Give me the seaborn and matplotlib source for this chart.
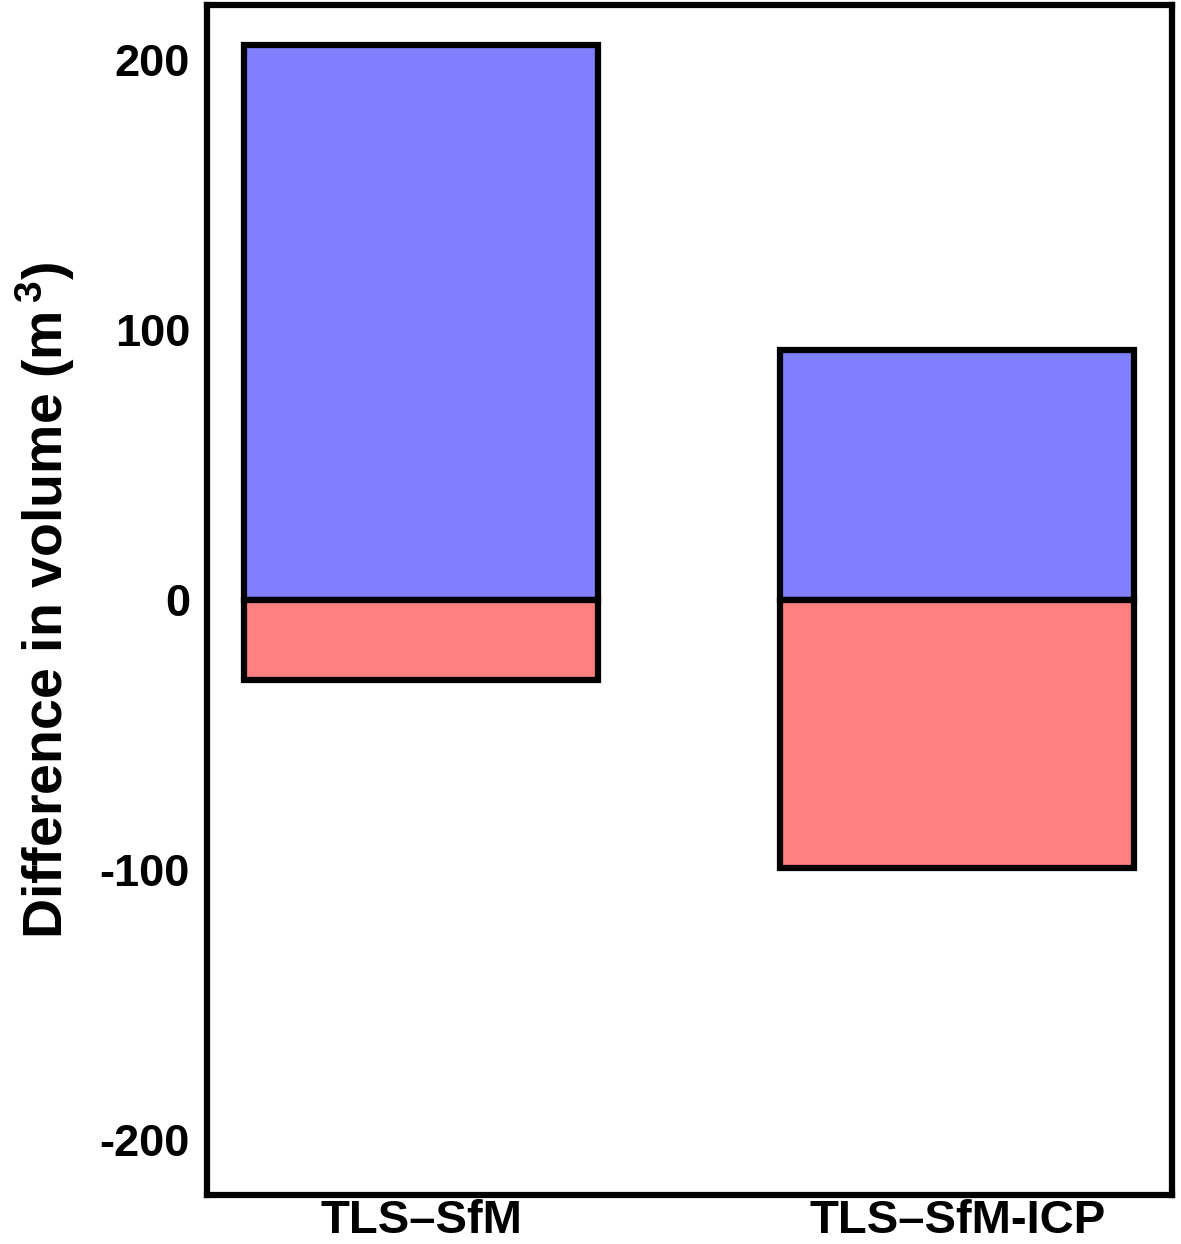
import matplotlib
matplotlib.use('Agg')
import matplotlib.pyplot as plt
import seaborn as sns

# Data
categories = ['TLS\u2013SfM', 'TLS\u2013SfM-ICP']
gain = [205.5, 92.5]
loss = [-29.5, -99.5]
yticks = [-200, -100, 0, 100, 200]

sns.set_style('white')
plt.rcParams['font.family'] = ['Liberation Sans', 'DejaVu Sans']
plt.rcParams['font.weight'] = 'bold'
plt.rcParams['text.color'] = 'black'
plt.rcParams['axes.labelcolor'] = 'black'
plt.rcParams['xtick.color'] = 'black'
plt.rcParams['ytick.color'] = 'black'
plt.rcParams['mathtext.fontset'] = 'custom'
plt.rcParams['mathtext.rm'] = 'Liberation Sans:bold'
plt.rcParams['mathtext.bf'] = 'Liberation Sans:bold'
plt.rcParams['mathtext.default'] = 'bf'

fig = plt.figure(figsize=(11.81, 12.44), dpi=100)
ax = fig.add_axes([0.175, 0.0394, 0.817, 0.9566])

sns.barplot(x=categories, y=gain, color='#8080FF', saturation=1, width=0.66,
            edgecolor='black', linewidth=4.5, ax=ax)
sns.barplot(x=categories, y=loss, color='#FF8080', saturation=1, width=0.66,
            edgecolor='black', linewidth=4.5, ax=ax)

ax.set_ylim(-220.5, 220.5)
ax.set_xlim(-0.4, 1.4)
ax.set_yticks(yticks)
ax.set_yticklabels([str(t) for t in yticks], fontsize=32.5, fontweight='bold')
ax.tick_params(axis='y', direction='in', length=15, width=4.5, pad=12)
ax.tick_params(axis='x', length=0, labelsize=34, pad=3)
for lab in ax.get_xticklabels():
    lab.set_fontweight('bold')
for s in ax.spines.values():
    s.set_linewidth(4.5)
    s.set_color('black')
ax.set_ylabel('Difference in volume (m$^{\\,3}$)', fontsize=40, fontweight='bold', labelpad=16)

fig.savefig('out.png', dpi=100)
